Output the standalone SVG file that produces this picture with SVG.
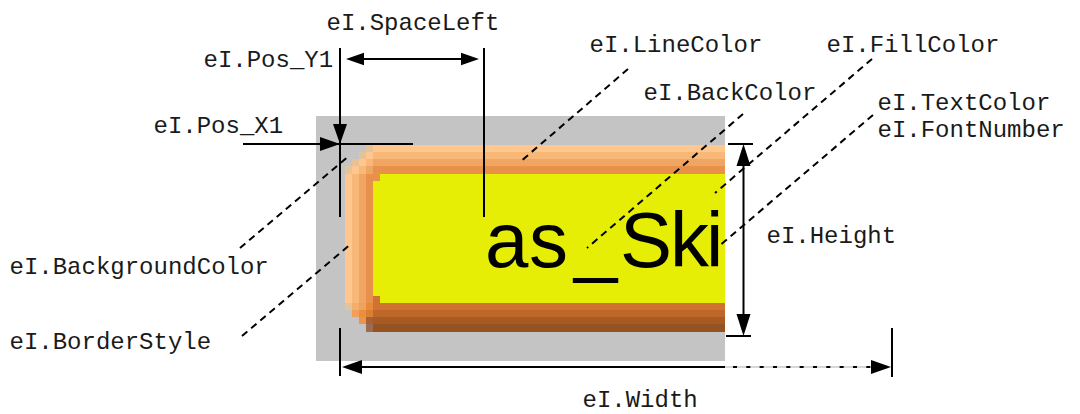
<svg xmlns="http://www.w3.org/2000/svg" xmlns:xlink="http://www.w3.org/1999/xlink" width="1080" height="414" viewBox="0 0 1080 414">
<style>
.lbl { font-family: "Liberation Mono", "Courier New", monospace; font-size: 24px; fill: #1a1a1a; }
.big { font-family: "Liberation Sans", Arial, sans-serif; font-size: 78px; fill: #000; }
.ln { stroke: #000; stroke-width: 2; fill: none; }
.dash { stroke: #000; stroke-width: 2; stroke-dasharray: 7 5; fill: none; }
.dot { stroke: #000; stroke-width: 2; stroke-dasharray: 4 9.33; fill: none; }
.ah { fill: #000; }
.t0 { fill: #FFC68E; } .t1 { fill: #F8B878; } .t2 { fill: #F0A562; } .t3 { fill: #E8914A; }
.b0 { fill: #D07232; } .b1 { fill: #BF6629; } .b2 { fill: #A85A24; } .b3 { fill: #955322; }
.tan { fill: #E6C396; }
</style>
<defs>
<path id="ah" d="M0,0 L-20,-7 L-20,7 Z"/>
</defs>
<rect width="1080" height="414" fill="#fff"/>

<g id="widget">
<rect x="316" y="116" width="409" height="245" fill="#C4C4C4"/>
<!-- top band -->
<rect class="t0" x="373" y="145" width="352" height="7"/>
<rect class="t1" x="373" y="152" width="352" height="7"/>
<rect class="t2" x="373" y="159" width="352" height="7"/>
<rect class="t3" x="373" y="166" width="352" height="8"/>
<!-- fill -->
<rect x="373" y="174" width="352" height="129" fill="#E6EE05"/>
<!-- bottom band -->
<rect class="b0" x="373" y="303" width="352" height="7"/>
<rect class="b1" x="373" y="310" width="352" height="7"/>
<rect class="b2" x="373" y="317" width="352" height="7"/>
<rect class="b3" x="373" y="324" width="352" height="8"/>
<!-- left band -->
<rect class="t0" x="345" y="174" width="7" height="129"/>
<rect class="t1" x="352" y="174" width="7" height="129"/>
<rect class="t2" x="359" y="174" width="7" height="129"/>
<rect class="t3" x="366" y="174" width="7" height="129"/>
<!-- notches -->
<rect class="t3" x="373" y="174" width="7" height="7"/>
<rect class="b0" x="373" y="296" width="7" height="7"/>
<!-- top-left corner -->
<rect class="tan" x="366" y="145" width="7" height="7"/>
<rect class="tan" x="359" y="152" width="7" height="7"/>
<rect class="t0" x="366" y="152" width="7" height="7"/>
<rect class="tan" x="352" y="159" width="7" height="7"/>
<rect class="t0" x="359" y="159" width="7" height="7"/>
<rect class="t1" x="366" y="159" width="7" height="7"/>
<rect class="tan" x="345" y="166" width="7" height="8"/>
<rect class="t0" x="352" y="166" width="7" height="8"/>
<rect class="t1" x="359" y="166" width="7" height="8"/>
<rect class="t2" x="366" y="166" width="7" height="8"/>
<!-- bottom-left corner -->
<rect class="tan" x="345" y="303" width="7" height="7"/>
<rect x="352" y="303" width="7" height="7" fill="#F4AE6C"/>
<rect x="359" y="303" width="7" height="7" fill="#F0A060"/>
<rect x="366" y="303" width="7" height="7" fill="#E88838"/>
<rect x="352" y="310" width="7" height="7" fill="#F0A058"/>
<rect x="359" y="310" width="7" height="7" fill="#E89040"/>
<rect x="366" y="310" width="7" height="7" fill="#DA7E32"/>
<rect x="359" y="317" width="7" height="7" fill="#EC9448"/>
<rect x="366" y="317" width="7" height="7" fill="#A86034"/>
<rect x="366" y="324" width="7" height="8" fill="#9C6C52"/>
<text class="big" x="485 529 574 620 670 706" y="267">as_Ski</text>
</g>

<g id="connectors">
<!-- Pos_Y1 / Pos_X1 crosshair -->
<line class="ln" x1="340" y1="48" x2="340" y2="217"/>
<use href="#ah" xlink:href="#ah" class="ah" transform="translate(340,144) rotate(90)"/>
<line class="ln" x1="243" y1="144" x2="413" y2="144"/>
<use href="#ah" xlink:href="#ah" class="ah" transform="translate(340,144)"/>
<!-- SpaceLeft -->
<line class="ln" x1="484" y1="48" x2="484" y2="217"/>
<line class="ln" x1="350" y1="59" x2="476" y2="59"/>
<use href="#ah" xlink:href="#ah" class="ah" transform="translate(346,59) rotate(180) scale(0.9)"/>
<use href="#ah" xlink:href="#ah" class="ah" transform="translate(479,59) scale(0.9)"/>
<!-- Height -->
<line class="ln" x1="728" y1="144" x2="753" y2="144"/>
<line class="ln" x1="726" y1="336" x2="751" y2="336"/>
<line class="ln" x1="743.5" y1="150" x2="743.5" y2="330"/>
<use href="#ah" xlink:href="#ah" class="ah" transform="translate(743.5,144) rotate(-90) scale(1.1,1)"/>
<use href="#ah" xlink:href="#ah" class="ah" transform="translate(743.5,336) rotate(90) scale(1.1,1)"/>
<!-- Width -->
<line class="ln" x1="340" y1="328" x2="340" y2="376"/>
<line class="ln" x1="892" y1="328" x2="892" y2="377"/>
<line class="ln" x1="346" y1="367" x2="725" y2="367"/>
<line x1="725" y1="367" x2="874" y2="367" stroke="#d8d8d8" stroke-width="2"/>
<line class="dot" x1="733" y1="367" x2="874" y2="367"/>
<use href="#ah" xlink:href="#ah" class="ah" transform="translate(342,367) rotate(180)"/>
<use href="#ah" xlink:href="#ah" class="ah" transform="translate(891,367)"/>
<!-- leaders -->
<line class="dash" x1="628" y1="69" x2="520" y2="162"/>
<line class="dash" x1="872" y1="59" x2="715" y2="193"/>
<line class="dash" x1="743" y1="114" x2="587" y2="248"/>
<line class="dash" x1="873" y1="115" x2="718" y2="247"/>
<line class="dash" x1="240" y1="248" x2="349" y2="156"/>
<line class="dash" x1="242" y1="336" x2="352" y2="243"/>
</g>

<g id="lbl-spaceleft"><text class="lbl" x="326.5" y="30">eI.SpaceLeft</text></g>
<g id="lbl-posy1"><text class="lbl" x="203.5" y="67">eI.Pos_Y1</text></g>
<g id="lbl-posx1"><text class="lbl" x="153.5" y="133">eI.Pos_X1</text></g>
<g id="lbl-linecolor"><text class="lbl" x="589.5" y="52">eI.LineColor</text></g>
<g id="lbl-fillcolor"><text class="lbl" x="826.5" y="52">eI.FillColor</text></g>
<g id="lbl-backcolor"><text class="lbl" x="643.5" y="100">eI.BackColor</text></g>
<g id="lbl-textcolor"><text class="lbl" x="877.5" y="110">eI.TextColor</text></g>
<g id="lbl-fontnumber"><text class="lbl" x="877.5" y="137">eI.FontNumber</text></g>
<g id="lbl-backgroundcolor"><text class="lbl" x="9.5" y="274">eI.BackgroundColor</text></g>
<g id="lbl-borderstyle"><text class="lbl" x="9.5" y="349">eI.BorderStyle</text></g>
<g id="lbl-height"><text class="lbl" x="766.5" y="243">eI.Height</text></g>
<g id="lbl-width"><text class="lbl" x="582.5" y="407">eI.Width</text></g>
</svg>
